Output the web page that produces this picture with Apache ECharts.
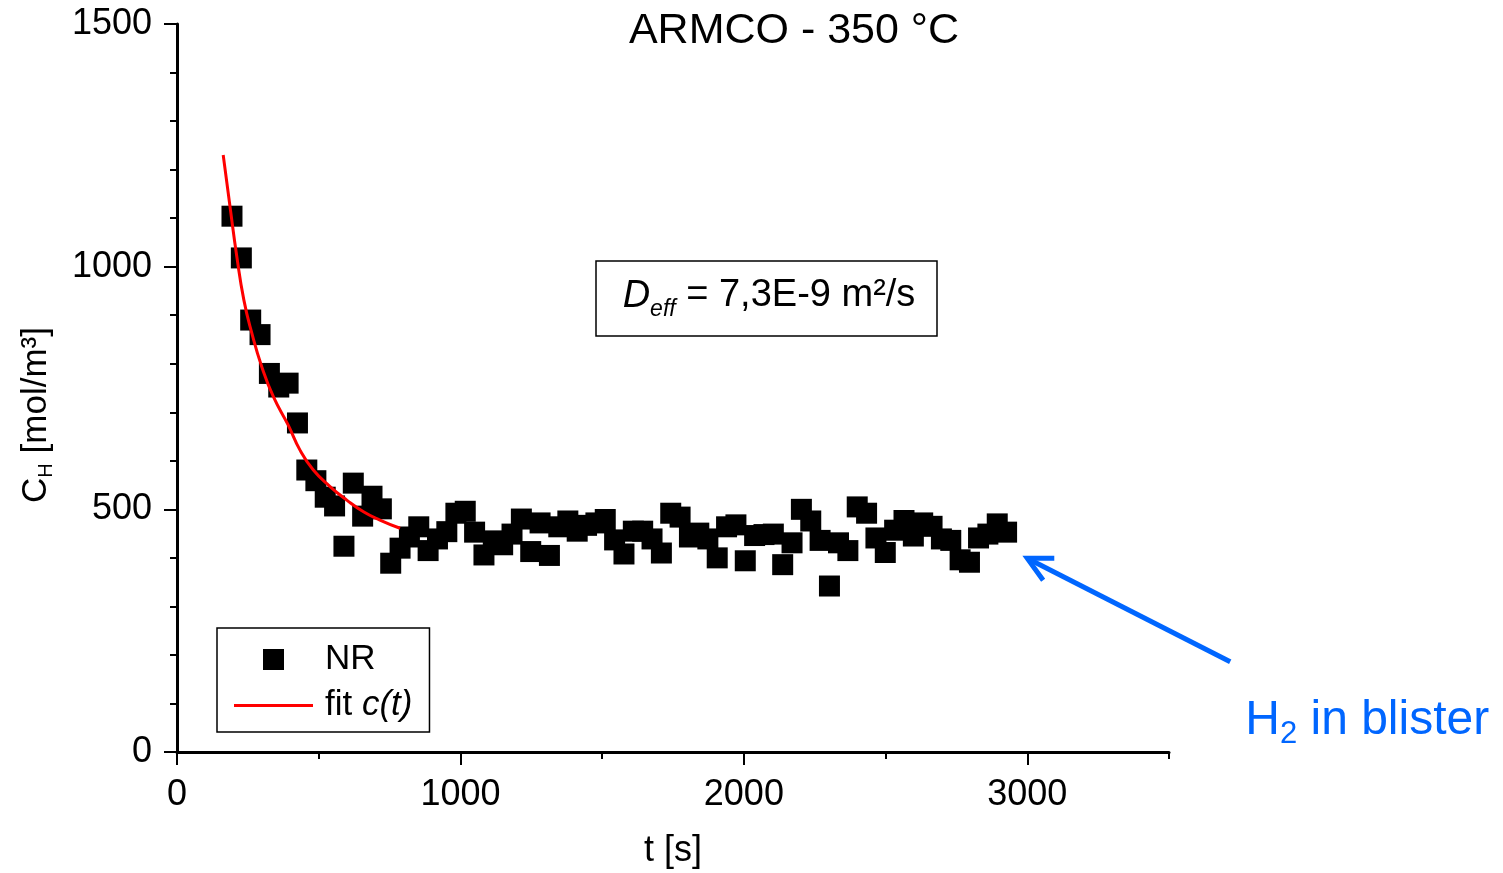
<!DOCTYPE html>
<html><head><meta charset="utf-8">
<script src="https://cdn.jsdelivr.net/npm/echarts@6/dist/echarts.min.js"></script>
<style>html,body{margin:0;padding:0;background:#fff}#c{width:1503px;height:873px}</style>
</head><body><div id="c"></div>
<script>
// ---- data ----
const tSec = [194,227,260,293,326,359,392,425,458,490,523,556,589,622,655,688,721,754,787,820,853,886,919,952,984,1017,1050,1083,1116,1149,1182,1215,1248,1281,1314,1347,1379,1412,1445,1478,1511,1544,1577,1610,1643,1676,1709,1742,1775,1808,1841,1873,1906,1939,1972,2005,2038,2071,2104,2137,2170,2203,2236,2269,2302,2334,2367,2400,2433,2466,2499,2532,2565,2598,2631,2664,2697,2730,2763,2796,2828,2861,2894,2927];
const cNR = [1104,1018,890,860,780,752,760,678,581,559,525,507,424,554,486,527,501,389,420,443,464,415,439,454,492,496,453,406,435,427,449,480,413,472,405,464,476,455,467,472,479,437,408,455,455,439,410,492,484,443,451,439,400,464,468,394,446,448,449,386,431,500,476,436,342,431,415,505,492,441,411,457,477,445,472,465,439,436,396,391,441,449,470,453];
const fitT = [163,187,211,236,264,299,340,392,434,481,540,599,658,716,787];
const fitC = [1230,1124,1021,931,863,794,732,674,622,581,547,519,495,478,461];
const xTickVals = [0,1000,2000,3000];
const xMinorVals = [500,1500,2500,3500];
const arrowTail = [3716, 186];
const arrowTip = [3000, 399];
const blisterAnchor = [3769, 64];

const FONT = "'Liberation Sans', Arial, sans-serif";
const BLUE = '#0066FF';
const chart = echarts.init(document.getElementById('c'), null, {renderer:'canvas'});
const nrData = tSec.map((t,i)=>[t,cNR[i]]);
const fitData = fitT.map((t,i)=>[t,fitC[i]]);
const plain = v => String(v);

chart.setOption({
  animation:false,
  backgroundColor:'#fff',
  textStyle:{fontFamily:FONT},
  title:[{
    text:'ARMCO - 350 °C', left:789, top:5, textAlign:'center',
    textStyle:{fontFamily:FONT, fontSize:43, fontWeight:'normal', color:'#000'}
  }],
  grid:{left:177, right:334, top:24, bottom:121, containLabel:false, outerBoundsMode:'none'},
  legend:{
    orient:'vertical', left:217, top:628,
    padding:[14,17,9,17], itemGap:11,
    borderColor:'#000', borderWidth:1.5,
    itemWidth:79, itemHeight:21,
    data:[{name:'NR', icon:'path://M0,0H10V10H0Z'},{name:'fit c(t)', icon:'path://M0,0H79V3H0Z'}],
    formatter: n => n==='fit c(t)' ? 'fit {i|c(t)}' : n,
    textStyle:{fontFamily:FONT, fontSize:35, color:'#000', padding:[0,0,0,7],
      rich:{i:{fontFamily:FONT, fontSize:35, fontStyle:'italic', color:'#000'}}}
  },
  xAxis:[{
    type:'value', min:0, max:3500, position:'bottom',
    axisLine:{onZero:false, lineStyle:{color:'#000', width:3}},
    axisTick:{show:true, customValues:xTickVals, length:13, lineStyle:{color:'#000', width:2}},
    axisLabel:{customValues:xTickVals, formatter:plain, fontFamily:FONT, fontSize:36, color:'#000', margin:25},
    splitLine:{show:false},
    name:'t [s]', nameLocation:'middle', nameGap:81,
    nameTextStyle:{fontFamily:FONT, fontSize:36, color:'#000'}
  },{
    type:'value', min:0, max:3500, position:'bottom',
    axisLine:{show:false, onZero:false},
    axisTick:{show:true, customValues:xMinorVals, length:7, lineStyle:{color:'#000', width:2}},
    axisLabel:{show:false}, splitLine:{show:false}
  }],
  yAxis:{
    type:'value', min:0, max:1500, interval:500,
    axisLine:{show:true, onZero:false, lineStyle:{color:'#000', width:3}},
    axisTick:{show:true, length:13, lineStyle:{color:'#000', width:2}},
    minorTick:{show:true, splitNumber:5, length:7, lineStyle:{color:'#000', width:2}},
    axisLabel:{formatter:plain, fontFamily:FONT, fontSize:36, color:'#000', margin:25},
    splitLine:{show:false},
    name:'C{sub|H} [mol/m³]', nameLocation:'middle', nameRotate:90, nameGap:121,
    nameTextStyle:{fontFamily:FONT, fontSize:35, color:'#000', padding:[0,54,0,0],
      rich:{sub:{fontFamily:FONT, fontSize:20, color:'#000', verticalAlign:'bottom', padding:[20,0,0,0]}}}
  },
  series:[{
    name:'NR', type:'scatter', data:nrData, symbol:'rect', symbolSize:21,
    itemStyle:{color:'#000', opacity:1}, z:3
  },{
    name:'fit c(t)', type:'line', data:fitData, smooth:true, showSymbol:false, symbol:'none',
    lineStyle:{color:'#FF0000', width:3}, itemStyle:{color:'#FF0000'}, z:4
  }]
});

const tip = chart.convertToPixel({gridIndex:0}, arrowTip);
const tail = chart.convertToPixel({gridIndex:0}, arrowTail);
const anc = chart.convertToPixel({gridIndex:0}, blisterAnchor);
const dx = tail[0]-tip[0], dy = tail[1]-tip[1];
const L = Math.hypot(dx,dy), ux = dx/L, uy = dy/L;
const hl = 27, ang = 27*Math.PI/180;
const rot = (a)=>[tip[0]+hl*(ux*Math.cos(a)-uy*Math.sin(a)), tip[1]+hl*(ux*Math.sin(a)+uy*Math.cos(a))];
const a1 = rot(ang), a2 = rot(-ang);

chart.setOption({
  graphic:[
    {type:'rect', shape:{x:596,y:261,width:341,height:75}, style:{fill:'none', stroke:'#000', lineWidth:1.5}},
    {type:'text', x:769, y:296, style:{
      text:'{d|D}{e|eff}{n| = 7,3E-9 m²/s}', align:'center', verticalAlign:'middle',
      rich:{
        d:{fontFamily:FONT, fontSize:38, fontStyle:'italic', fill:'#000'},
        e:{fontFamily:FONT, fontSize:23, fontStyle:'italic', fill:'#000', verticalAlign:'bottom', padding:[28,0,0,0]},
        n:{fontFamily:FONT, fontSize:38, fill:'#000'}
      }}},
    {type:'line', shape:{x1:tail[0],y1:tail[1],x2:tip[0]+ux*2,y2:tip[1]+uy*2}, style:{stroke:BLUE, lineWidth:5}},
    {type:'polyline', shape:{points:[a1, tip, a2]}, style:{stroke:BLUE, lineWidth:5, fill:'none', lineJoin:'miter'}},
    {type:'text', x:anc[0], y:anc[1], style:{
      text:'H{s|2} in blister', align:'left', verticalAlign:'middle',
      rich:{
        s:{fontFamily:FONT, fontSize:31, fill:BLUE, verticalAlign:'bottom', padding:[28,0,0,0]}
      },
      fontFamily:FONT, fontSize:48, fill:BLUE}}
  ]
});
</script></body></html>
